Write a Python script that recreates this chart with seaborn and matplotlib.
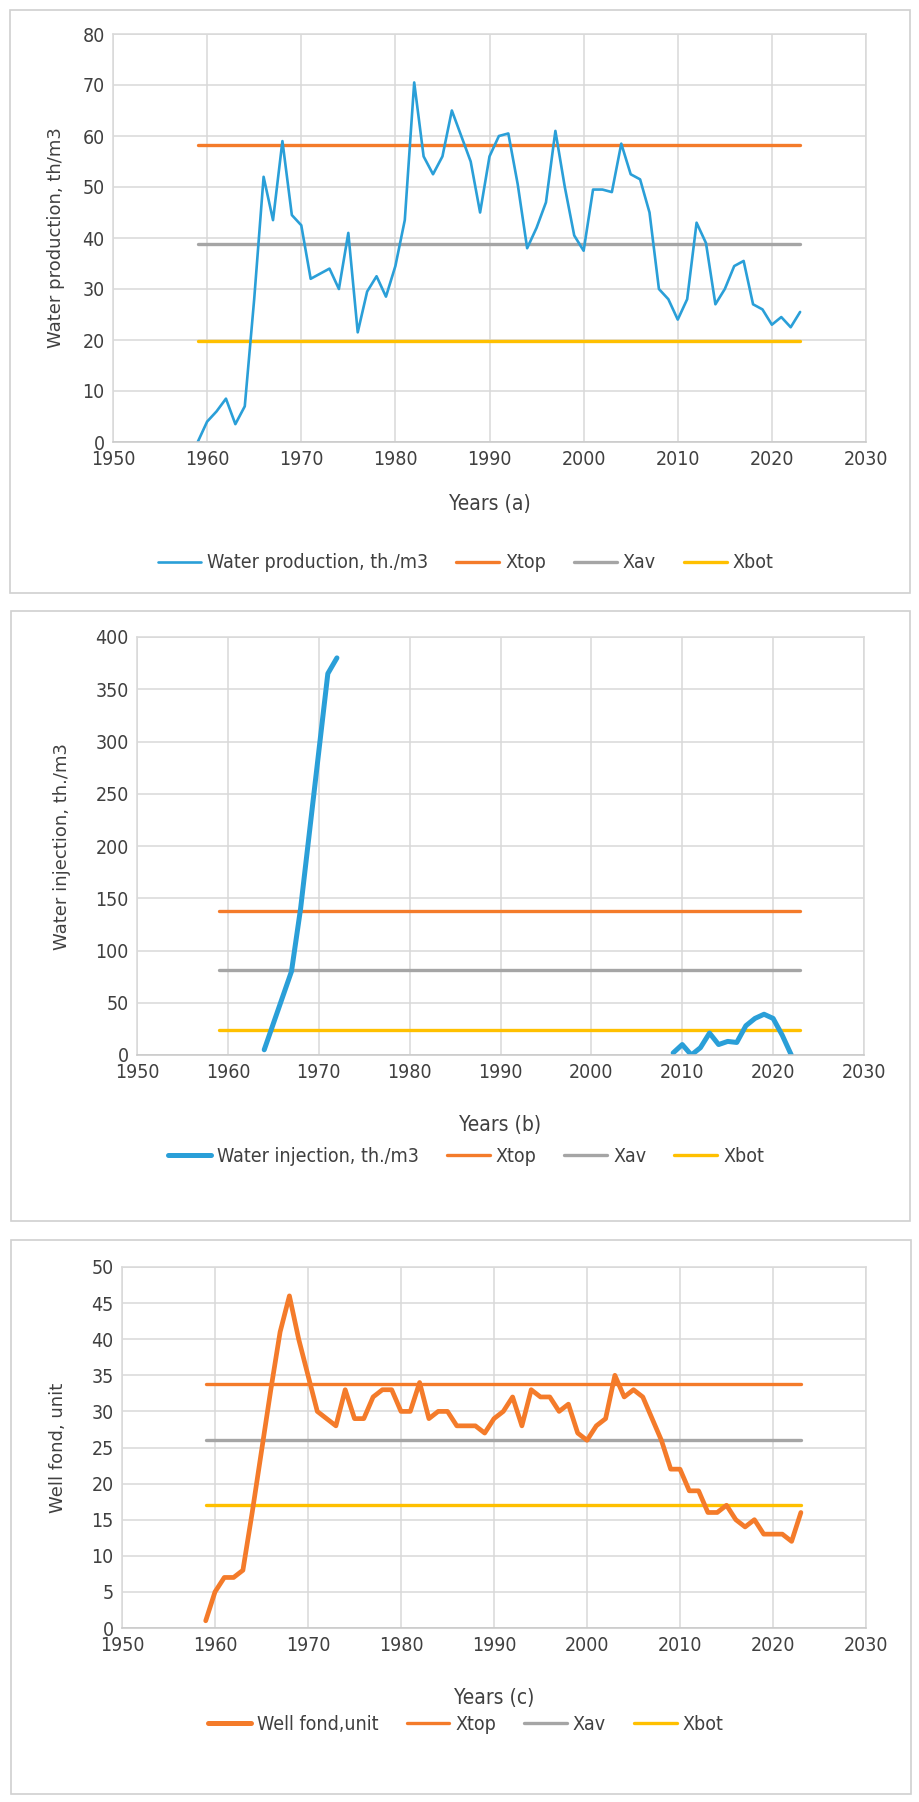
import matplotlib
matplotlib.use("Agg")
import matplotlib.pyplot as plt
import seaborn as sns
import numpy as np
from matplotlib.patches import Rectangle
from matplotlib.lines import Line2D

# ---------------- data ----------------
years_prod = list(range(1959, 2024))
water_prod = [0, 4, 6, 8.5, 3.5, 7, 28, 52, 43.5, 59, 44.5, 42.5, 32, 33, 34, 30, 41,
              21.5, 29.5, 32.5, 28.5, 34.5, 43.5, 70.5, 56, 52.5, 56, 65, 60, 55, 45,
              56, 60, 60.5, 50.5, 38, 42, 47, 61, 50, 40.5, 37.5, 49.5, 49.5, 49, 58.5,
              52.5, 51.5, 45, 30, 28, 24, 28, 43, 39, 27, 30, 34.5, 35.5, 27, 26, 23,
              24.5, 22.5, 25.5]
prod_xtop, prod_xav, prod_xbot = 58.2, 38.9, 19.8

years_inj_early = [1964, 1965, 1966, 1967, 1968, 1969, 1970, 1971, 1972]
water_inj_early = [5, 30, 55, 80, 140, 215, 290, 365, 380]
years_inj_late = list(range(2009, 2023))
water_inj_late = [2, 10, 0, 7, 21, 10, 13, 12, 28, 35, 39, 35, 19, 0]
inj_xtop, inj_xav, inj_xbot = 138, 81, 24

years_well = list(range(1959, 2024))
well_fond = [1, 5, 7, 7, 8, 16, 24.5, 33, 41, 46, 40, 35, 30, 29, 28, 33, 29, 29, 32,
             33, 33, 30, 30, 34, 29, 30, 30, 28, 28, 28, 27, 29, 30, 32, 28, 33, 32,
             32, 30, 31, 27, 26, 28, 29, 35, 32, 33, 32, 29, 26, 22, 22, 19, 19, 16,
             16, 17, 15, 14, 15, 13, 13, 13, 12, 16]
well_xtop, well_xav, well_xbot = 33.8, 26, 17.1

limit_years = [1959, 2023]

# ---------------- style ----------------
sns.set_theme(style="white")
plt.rcParams['font.family'] = ['Liberation Sans Narrow', 'DejaVu Sans']
plt.rcParams['font.stretch'] = 'condensed'

BLUE = '#2A9FD8'
ORANGE = '#F47B2A'
GRAY = '#A5A5A5'
YELLOW = '#FFC000'
GRID = '#D9D9D9'
TXT = '#404040'

W, H = 920, 1802
fig = plt.figure(figsize=(W / 100, H / 100), dpi=100)
fig.patch.set_facecolor('white')


def px_axes(x0, y0, x1, y1):
    return fig.add_axes([x0 / W, 1 - y1 / H, (x1 - x0) / W, (y1 - y0) / H])


def box(x0, y0, x1, y1):
    fig.patches.append(Rectangle((x0 / W, 1 - y1 / H), (x1 - x0) / W, (y1 - y0) / H,
                                 transform=fig.transFigure, fill=False,
                                 edgecolor='#D0D0D0', lw=1.2))


def style_axes(ax, ymax, ystep):
    ax.set_xlim(1950, 2030)
    ax.set_ylim(0, ymax)
    ax.set_xticks(range(1950, 2031, 10))
    ax.set_yticks(np.arange(0, ymax + 1, ystep))
    ax.grid(True, color=GRID, lw=1.1)
    ax.set_axisbelow(True)
    for s in ax.spines.values():
        s.set_color(GRID)
        s.set_linewidth(1.1)
    ax.spines['bottom'].set_color('#C8C8C8')
    ax.tick_params(axis='both', length=0, labelsize=14, labelcolor=TXT, pad=6)
    ax.set_xlabel('')
    ax.set_ylabel('')


def add_labels(ax, ylabel, xlabel, ylabel_x, xlabel_y):
    bb = ax.get_position()
    fig.text(ylabel_x / W, bb.y0 + bb.height / 2, ylabel, rotation=90, ha='center',
             va='center', fontsize=13, color=TXT, family=['DejaVu Sans'],
             fontstretch='normal')
    fig.text(bb.x0 + bb.width / 2, 1 - xlabel_y / H, xlabel, ha='center', va='center',
             fontsize=15, color=TXT)


def add_legend(main_label, main_color, main_lw, legend_y):
    handles = [Line2D([], [], color=main_color, lw=main_lw),
               Line2D([], [], color=ORANGE, lw=2.4),
               Line2D([], [], color=GRAY, lw=2.4),
               Line2D([], [], color=YELLOW, lw=2.4)]
    labels = [main_label, 'Xtop', 'Xav', 'Xbot']
    fig.legend(handles, labels, loc='center', bbox_to_anchor=(466 / W, 1 - legend_y / H),
               bbox_transform=fig.transFigure, ncol=4, frameon=False, fontsize=14,
               handlelength=2.2, handletextpad=0.3, columnspacing=1.45,
               labelcolor=TXT)


def limit_lines(ax, top, av, bot):
    sns.lineplot(x=limit_years, y=[top, top], ax=ax, color=ORANGE, lw=2.4)
    sns.lineplot(x=limit_years, y=[av, av], ax=ax, color=GRAY, lw=2.4)
    sns.lineplot(x=limit_years, y=[bot, bot], ax=ax, color=YELLOW, lw=2.4)


# ---------------- panel (a) ----------------
box(10, 10, 910, 593)
ax1 = px_axes(113, 34, 866, 442)
limit_lines(ax1, prod_xtop, prod_xav, prod_xbot)
sns.lineplot(x=years_prod, y=water_prod, ax=ax1, color=BLUE, lw=1.9)
style_axes(ax1, 80, 10)
add_labels(ax1, 'Water production, th/m3', 'Years (a)', 56, 504)
add_legend('Water production, th./m3', BLUE, 1.9, 563)

# ---------------- panel (b) ----------------
box(11, 611, 910, 1221)
ax2 = px_axes(137, 637, 864, 1055)
limit_lines(ax2, inj_xtop, inj_xav, inj_xbot)
sns.lineplot(x=years_inj_early, y=water_inj_early, ax=ax2, color=BLUE, lw=3.6)
sns.lineplot(x=years_inj_late, y=water_inj_late, ax=ax2, color=BLUE, lw=3.6)
style_axes(ax2, 400, 50)
add_labels(ax2, 'Water injection, th./m3', 'Years (b)', 62, 1125)
add_legend('Water injection, th./m3', BLUE, 3.6, 1156)

# ---------------- panel (c) ----------------
box(11, 1240, 911, 1794)
ax3 = px_axes(122, 1267, 866, 1628)
limit_lines(ax3, well_xtop, well_xav, well_xbot)
sns.lineplot(x=years_well, y=well_fond, ax=ax3, color=ORANGE, lw=3.4)
style_axes(ax3, 50, 5)
add_labels(ax3, 'Well fond, unit', 'Years (c)', 58, 1698)
add_legend('Well fond,unit', ORANGE, 3.6, 1724)

fig.savefig('out.png', dpi=100, facecolor='white')
